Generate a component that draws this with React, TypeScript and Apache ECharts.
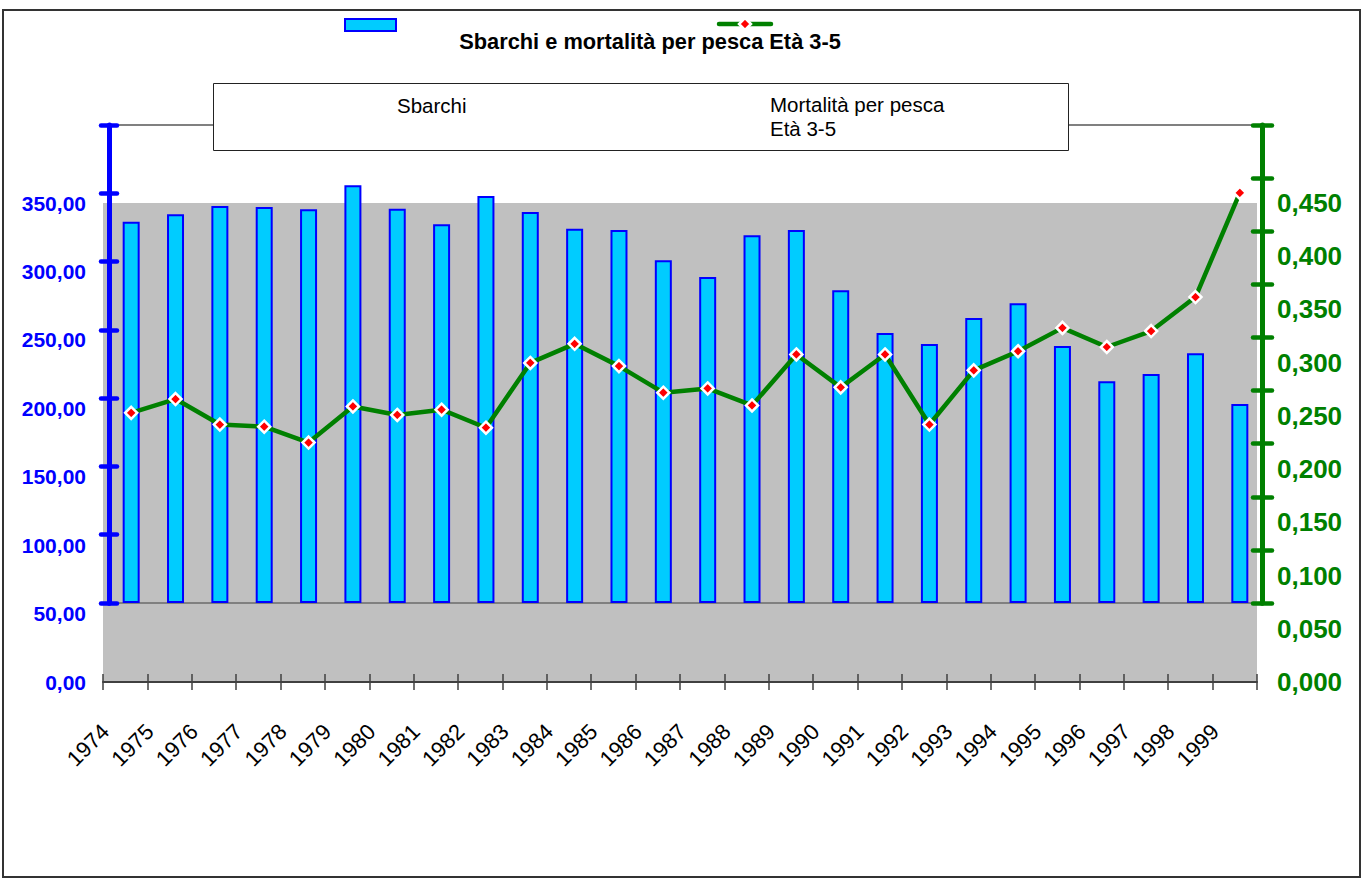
import React, { useEffect, useRef } from "react";
import * as echarts from "echarts";

const years = ["1974", "1975", "1976", "1977", "1978", "1979", "1980", "1981", "1982", "1983", "1984", "1985", "1986", "1987", "1988", "1989", "1990", "1991", "1992", "1993", "1994", "1995", "1996", "1997", "1998", "1999"];
const sbarchi = [279.2, 284.6, 290.7, 290.0, 288.3, 305.8, 288.7, 277.3, 298.0, 286.3, 274.1, 273.1, 250.9, 238.7, 269.2, 273.1, 229.0, 197.7, 189.6, 208.7, 219.4, 188.2, 162.3, 167.7, 182.8, 145.7];
const mortalita = [0.179, 0.192, 0.168, 0.166, 0.151, 0.185, 0.177, 0.182, 0.165, 0.226, 0.244, 0.223, 0.198, 0.202, 0.186, 0.234, 0.203, 0.234, 0.168, 0.219, 0.237, 0.259, 0.241, 0.256, 0.288, 0.386];

const titleText = "Sbarchi e mortalità per pesca Età 3-5";
const legendBar = "Sbarchi";
const legendLine = "Mortalità per pesca\nEtà 3-5";

const FONT = "'Liberation Sans', Arial, sans-serif";
const BLUE = "#0000ff";
const GREEN = "#008000";

export default function App() {
  const ref = useRef<HTMLDivElement>(null);
  useEffect(() => {
    if (!ref.current) return;
    const chart = echarts.init(ref.current, null, { renderer: "svg" });
    const tickStyleBlue = { color: BLUE, width: 4.5, cap: "round" };
    const tickStyleGreen = { color: GREEN, width: 4.5, cap: "round" };
    chart.setOption({
      animation: false,
      backgroundColor: "#ffffff",
      title: {
        text: titleText,
        left: 645,
        top: 25,
        textAlign: "center",
        textStyle: { fontFamily: FONT, fontSize: 21.8, fontWeight: "bold", color: "#000" },
      },
      grid: [
        { left: 103, top: 203, width: 1154, height: 479, show: true, backgroundColor: "#c0c0c0", borderWidth: 0 },
        { left: 109, top: 125, width: 1153, height: 478, show: true, backgroundColor: "transparent", borderColor: "#808080", borderWidth: 2 },
      ],
      xAxis: [
        {
          type: "category", gridIndex: 0, data: years, position: "bottom",
          axisLine: { show: true, lineStyle: { color: "#404040", width: 2 } },
          axisTick: { show: true, length: 8, lineStyle: { color: "#404040", width: 1.5 } },
          axisLabel: { rotate: 45, margin: 26, padding: [0, 28, 0, 0], fontFamily: FONT, fontSize: 22, color: "#000", interval: 0 },
          splitLine: { show: false },
        },
        {
          type: "category", gridIndex: 0, data: years, position: "bottom",
          axisLine: { show: false },
          axisTick: { show: true, inside: true, length: 8, lineStyle: { color: "#404040", width: 1.5 } },
          axisLabel: { show: false },
          splitLine: { show: false },
        },
        { type: "category", gridIndex: 1, data: years, show: false },
      ],
      yAxis: [
        {
          type: "value", gridIndex: 0, position: "left", min: 0, max: 350, interval: 50,
          axisLine: { show: false }, axisTick: { show: false }, splitLine: { show: false },
          axisLabel: { margin: 17, fontFamily: FONT, fontSize: 21, fontWeight: "bold", color: BLUE, formatter: (v: number) => v.toFixed(2).replace(".", ",") },
        },
        {
          type: "value", gridIndex: 0, position: "right", min: 0, max: 0.45, interval: 0.05,
          axisLine: { show: false }, axisTick: { show: false }, splitLine: { show: false },
          axisLabel: { margin: 20, fontFamily: FONT, fontSize: 26, fontWeight: "bold", color: GREEN, formatter: (v: number) => v.toFixed(3).replace(".", ",") },
        },
        {
          type: "value", gridIndex: 1, position: "left", min: 0, max: 350, interval: 50,
          axisLine: { show: true, lineStyle: { color: BLUE, width: 5 } },
          axisTick: { show: true, length: 8, lineStyle: tickStyleBlue },
          axisLabel: { show: false }, splitLine: { show: false },
        },
        {
          type: "value", gridIndex: 1, position: "left", min: 0, max: 350, interval: 50,
          axisLine: { show: false },
          axisTick: { show: true, inside: true, length: 8, lineStyle: tickStyleBlue },
          axisLabel: { show: false }, splitLine: { show: false },
        },
        {
          type: "value", gridIndex: 1, position: "right", min: 0, max: 0.45, interval: 0.05,
          axisLine: { show: true, lineStyle: { color: GREEN, width: 5 } },
          axisTick: { show: true, length: 10, lineStyle: tickStyleGreen },
          axisLabel: { show: false }, splitLine: { show: false },
        },
        {
          type: "value", gridIndex: 1, position: "right", min: 0, max: 0.45, interval: 0.05,
          axisLine: { show: false },
          axisTick: { show: true, inside: true, length: 9, lineStyle: tickStyleGreen },
          axisLabel: { show: false }, splitLine: { show: false },
        },
      ],
      series: [
        {
          name: legendBar, type: "bar", xAxisIndex: 2, yAxisIndex: 2, data: sbarchi, barWidth: 17,
          itemStyle: { color: "#00ccff", borderColor: BLUE, borderWidth: 2 },
          z: 3,
        },
        {
          name: "Mortalità per pesca Età 3-5", type: "line", xAxisIndex: 2, yAxisIndex: 4, data: mortalita,
          lineStyle: { color: GREEN, width: 4.5 },
          symbol: "diamond", symbolSize: 12, showAllSymbol: true,
          itemStyle: { color: "#ff0000", borderColor: "#ffffff", borderWidth: 2.5 },
          clip: false, z: 4,
        },
      ],
      graphic: [
        { type: "rect", z: 100, shape: { x: 3, y: 10, width: 1357, height: 867 }, style: { fill: "none", stroke: "#333333", lineWidth: 2 } },
        { type: "rect", z: 100, shape: { x: 345, y: 19, width: 51, height: 12 }, style: { fill: "#00ccff", stroke: BLUE, lineWidth: 2 } },
        { type: "line", z: 100, shape: { x1: 719, y1: 24, x2: 771, y2: 24 }, style: { stroke: GREEN, lineWidth: 4.5, lineCap: "round" } },
        { type: "polygon", z: 101, shape: { points: [[745, 18], [751, 24], [745, 30], [739, 24]] }, style: { fill: "#ff0000", stroke: "#ffffff", lineWidth: 2.5 } },
        { type: "rect", z: 100, shape: { x: 213.5, y: 83.5, width: 855, height: 67 }, style: { fill: "#ffffff", stroke: "#222222", lineWidth: 1 } },
        { type: "text", z: 101, x: 397, y: 105, style: { text: legendBar, fontFamily: FONT, fontSize: 20.5, fill: "#000", textAlign: "left", textVerticalAlign: "middle" } },
        { type: "text", z: 101, x: 770, y: 93, style: { text: legendLine, fontFamily: FONT, fontSize: 20.5, lineHeight: 23.5, fill: "#000", textAlign: "left", textVerticalAlign: "top" } },
      ],
    });
    return () => chart.dispose();
  }, []);
  return <div ref={ref} style={{ position: "absolute", left: 0, top: 0, width: 1370, height: 881 }} />;
}
